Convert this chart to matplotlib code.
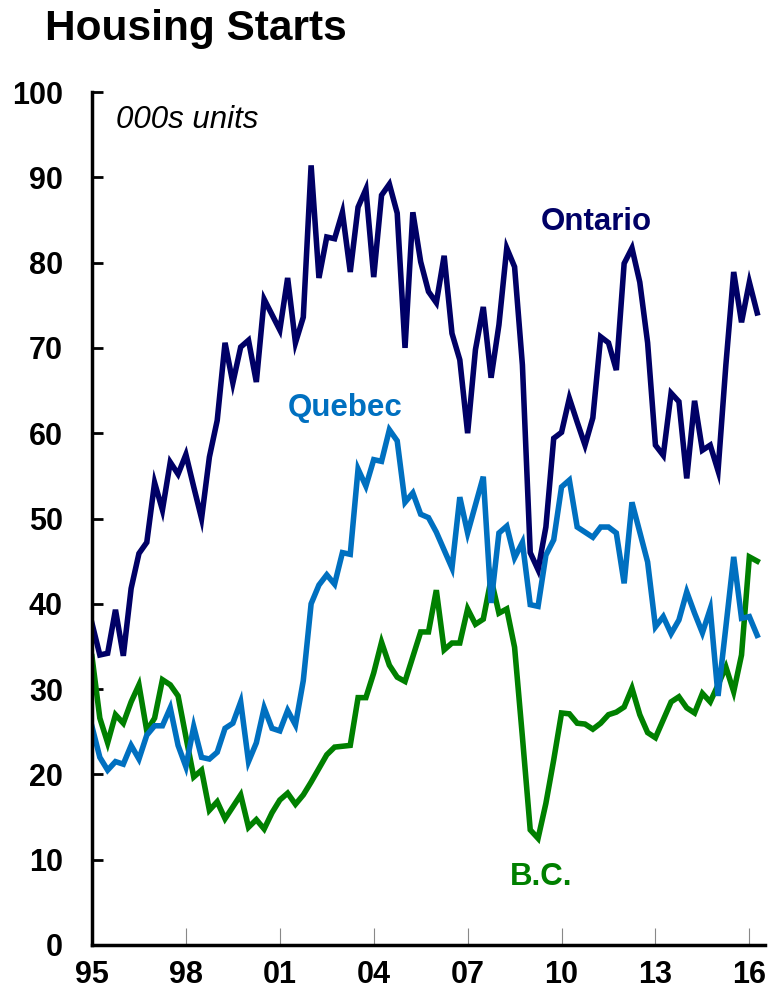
import matplotlib
matplotlib.use("Agg")
import matplotlib.pyplot as plt
import numpy as np

plt.rcParams['font.family'] = ['Liberation Sans', 'DejaVu Sans']

start_year = 1995
ontario = [37.7, 34, 34.2, 39.3, 33.9, 41.8, 45.9, 47.2, 54.2, 51, 56.6, 55.2, 57.5, 53.7, 50, 57.2,
           61.5, 70.6, 65.9, 70.1, 70.9, 66, 75.7, 73.9, 72.1, 78.2, 70.6, 73.6, 91.4, 78.2, 83, 82.8,
           85.9, 78.9, 86.5, 88.6, 78.3, 87.9, 89.2, 85.8, 70, 85.9, 80.1, 76.6, 75.3, 80.8, 71.7, 68.6,
           60, 69.8, 74.8, 66.5, 72.7, 81.7, 79.5, 68, 46, 44, 49, 59.4, 60.1, 64.1, 61.3, 58.6,
           61.8, 71.3, 70.6, 67.4, 79.9, 81.7, 77.7, 70.6, 58.6, 57.4, 64.7, 63.7, 54.7, 63.8, 58, 58.6,
           55.6, 68, 78.9, 73, 77.7, 74.1]
quebec = [25.6, 22, 20.5, 21.5, 21.2, 23.4, 21.8, 24.6, 25.7, 25.7, 27.8, 23.4, 20.9, 25.6, 22, 21.8,
          22.6, 25.4, 26, 28.5, 21.5, 23.7, 27.8, 25.4, 25.1, 27.5, 25.8, 31, 40, 42.2, 43.4, 42.3,
          46, 45.8, 55.8, 53.8, 56.9, 56.7, 60.4, 59.1, 51.9, 53, 50.5, 50.1, 48.4, 46.3, 44.2, 52.5,
          48.3, 51.6, 54.9, 40.1, 48.3, 49.1, 45.4, 47.2, 39.9, 39.7, 45.7, 47.5, 53.7, 54.5, 49, 48.4,
          47.8, 49, 49, 48.3, 42.4, 51.9, 48.4, 44.9, 37.3, 38.5, 36.5, 38.1, 41.4, 38.9, 36.6, 39.4,
          29.2, 37.3, 45.5, 38.3, 38.5, 36.3]
bc = [33.8, 26.6, 23.7, 27, 26, 28.5, 30.5, 25.1, 26.6, 31.1, 30.5, 29.2, 24.4, 19.7, 20.5, 15.8,
      16.8, 14.8, 16.2, 17.6, 13.8, 14.7, 13.6, 15.5, 17, 17.8, 16.5, 17.6, 19.1, 20.7, 22.3, 23.2,
      23.3, 23.4, 29, 29, 31.9, 35.5, 32.8, 31.4, 30.9, 33.8, 36.7, 36.7, 41.6, 34.6, 35.4, 35.4,
      39.4, 37.6, 38.2, 42.9, 38.9, 39.4, 34.9, 24.4, 13.5, 12.5, 16.6, 21.7, 27.2, 27.1, 26, 25.9,
      25.3, 26, 27, 27.3, 27.9, 30.1, 27, 24.9, 24.3, 26.4, 28.5, 29.1, 27.8, 27.2, 29.5, 28.5,
      30.5, 32.6, 29.7, 34, 45.5, 45]

tick_years = [1995, 1998, 2001, 2004, 2007, 2010, 2013, 2016]
tick_labels = ['95', '98', '01', '04', '07', '10', '13', '16']
y_ticks = [0, 10, 20, 30, 40, 50, 60, 70, 80, 90, 100]

x = start_year + np.arange(len(ontario)) / 4.0

fig = plt.figure(figsize=(7.72, 9.99), dpi=100)
ax = fig.add_axes([92/772, 54/999, 673/772, 853/999])

c_on = '#000066'
c_qc = '#0070C0'
c_bc = '#008000'
lw = 4.0
ax.plot(x, bc, color=c_bc, lw=lw, solid_joinstyle='miter')
ax.plot(x, quebec, color=c_qc, lw=lw, solid_joinstyle='miter')
ax.plot(x, ontario, color=c_on, lw=lw, solid_joinstyle='miter')

ax.set_xlim(1995, 2016.5)
ax.set_ylim(0, 100)
ax.set_yticks(y_ticks)
ax.set_xticks(tick_years)
ax.set_xticklabels(tick_labels)
for s in ['top', 'right']:
    ax.spines[s].set_visible(False)
for s in ['left', 'bottom']:
    ax.spines[s].set_linewidth(2.5)
    ax.spines[s].set_color('black')
ax.tick_params(axis='y', direction='in', length=8, width=2, pad=21, labelsize=22)
ax.tick_params(axis='x', direction='in', length=12, width=0.8, color='#888888', pad=11, labelsize=22)
for lab in ax.get_xticklabels() + ax.get_yticklabels():
    lab.set_fontweight('bold')

ax.text(116/772 * 772 / 673 - 92/673, 0.967, '000s units', transform=ax.transAxes, fontsize=22.5,
        style='italic', ha='left', va='center')
ax.text(2011.1, 84.8, 'Ontario', color=c_on, fontsize=22.5, fontweight='bold', ha='center', va='center')
ax.text(2003.1, 63.0, 'Quebec', color=c_qc, fontsize=22.5, fontweight='bold', ha='center', va='center')
ax.text(2009.35, 8.0, 'B.C.', color=c_bc, fontsize=22.5, fontweight='bold', ha='center', va='center')

fig.text(45/772, 1 - 29/999, 'Housing Starts', fontsize=30.5, fontweight='bold', ha='left', va='center')

fig.savefig('out.png', dpi=100)
